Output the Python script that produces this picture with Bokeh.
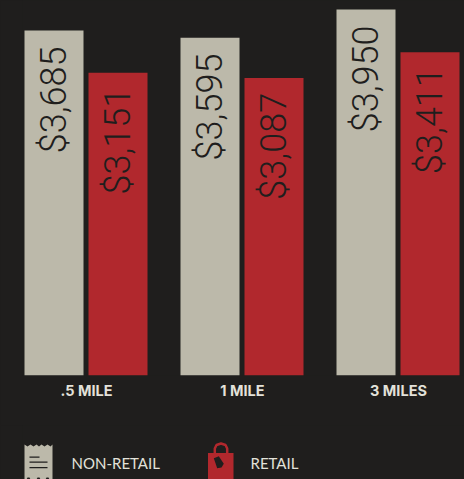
import math
from bokeh.core.properties import value
from bokeh.embed import file_html
from bokeh.layouts import column
from bokeh.models import ColumnDataSource, FactorRange, Range1d
from bokeh.plotting import figure
from bokeh.resources import INLINE
from bokeh.transform import dodge

groups = [".5 MILE", "1 MILE", "3 MILES"]
non_retail = [3685, 3595, 3950]
retail = [3151, 3087, 3411]
non_retail_labels = ["$3,685", "$3,595", "$3,950"]
retail_labels = ["$3,151", "$3,087", "$3,411"]
legend_names = ["NON-RETAIL", "RETAIL"]

BG = "#1f1e1d"
GREY = "#bcb9aa"
RED = "#b1282d"
INK = "#1f1e1d"
PALE = "#e3e2da"

W, H = 464, 479
LEFT, RIGHT, BOTTOM, SPLIT = 22, 2, 375, 425
base = -669
px_per_unit = 21 / 265
y_top = 3950 + 9 / px_per_unit

p = figure(width=W, height=SPLIT, output_backend="svg", toolbar_location=None,
           x_range=FactorRange(factors=groups, factor_padding=0.21875, range_padding=0),
           y_range=Range1d(base, y_top),
           min_border_left=LEFT, min_border_right=RIGHT, min_border_top=0, min_border_bottom=SPLIT - BOTTOM,
           background_fill_color=BG, border_fill_color=BG, outline_line_color=None)
p.grid.visible = False
p.yaxis.visible = False
ax = p.xaxis[0]
ax.axis_line_color = None
ax.major_tick_line_color = None
ax.minor_tick_line_color = None
ax.major_label_text_color = PALE
ax.major_label_text_font = "Inter"
ax.major_label_text_font_style = "bold"
ax.major_label_text_font_size = "14.5px"
ax.major_label_standoff = 0

src = ColumnDataSource(dict(g=groups, a=non_retail, b=retail, la=non_retail_labels, lb=retail_labels))
d1, d2 = -0.2539, 0.2461
bw = 59 / 128
p.vbar(x=dodge("g", d1, range=p.x_range), top="a", bottom=base, width=bw, fill_color=GREY, line_color=None, source=src)
p.vbar(x=dodge("g", d2, range=p.x_range), top="b", bottom=base, width=bw, fill_color=RED, line_color=None, source=src)
for d, y, t, off in ((d1, "a", "la", 16), (d2, "b", "lb", 15)):
    p.text(x=dodge("g", d, range=p.x_range), y=y, text=t, source=src, angle=math.pi / 2,
           text_align="right", text_baseline="middle", y_offset=off,
           text_color=INK, text_font=value("Roboto Light"), text_font_size="36px")

# legend strip: its ranges run in page pixels, so the icons can be drawn directly
q = figure(width=W, height=H - SPLIT, output_backend="svg", toolbar_location=None,
           x_range=Range1d(LEFT, W - RIGHT), y_range=Range1d(H, SPLIT),
           min_border_left=LEFT, min_border_right=RIGHT, min_border_top=0, min_border_bottom=0,
           background_fill_color=BG, border_fill_color=BG, outline_line_color=None)
q.grid.visible = False
q.axis.visible = False
q.frame_height = H - SPLIT
q.frame_width = W - LEFT - RIGHT

def poly(xs, ys, fill):
    q.patch(xs, ys, fill_color=fill, line_color=None)

q.text(x=[71, 250], y=[462.5, 462.5], text=legend_names, text_color=PALE,
       text_font=value("Lato"), text_font_size="15px", text_baseline="middle")

# receipt icon
poly([24, 27, 30, 33, 36, 38.5, 41, 44, 47, 50, 52, 52, 24],
     [444, 446, 444, 446, 444, 446, 444, 446, 444, 446, 444, 479, 479], GREY)
for x0, x1, y in ((29, 39, 456), (29, 47, 461), (29, 47, 466.5)):
    poly([x0, x1, x1, x0], [y, y, y + 1.3, y + 1.3], BG)
for xc in (28, 38, 47):
    poly([xc - 2, xc + 2, xc + 1, xc - 1], [479, 479, 477, 477], BG)
# bag icon
poly([207.5, 233, 233, 207.5], [452.5, 452.5, 479, 479], RED)
q.line([214.3, 214.3, 216, 220.5, 225, 226.7, 226.7], [456, 448, 444.5, 443, 444.5, 448, 456],
       line_color=RED, line_width=2.5)
poly([213.3, 218.3, 223.3, 221, 216.7], [457.7, 455.7, 463.3, 467, 467.7], BG)

html = file_html(column(p, q, spacing=0), INLINE)
html = html.replace("<head>", "<head><style>html,body{margin:0;padding:0;background:%s;overflow:hidden}</style>" % BG, 1)
open("out.html", "w").write(html)
